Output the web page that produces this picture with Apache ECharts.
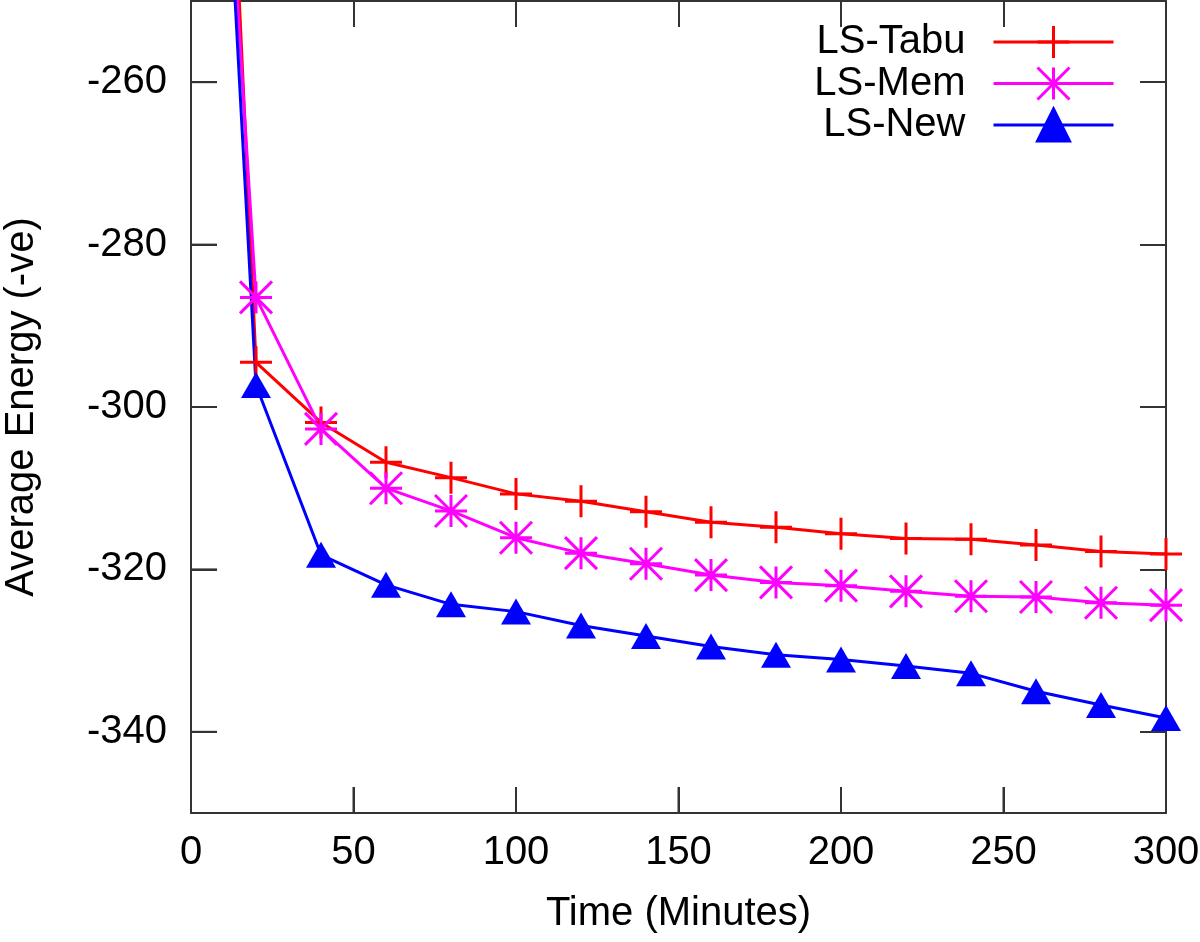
<!DOCTYPE html>
<html>
<head>
<meta charset="utf-8">
<script src="https://cdn.jsdelivr.net/npm/echarts@6/dist/echarts.min.js"></script>
<style>
html,body{margin:0;padding:0;background:#fff;}
#chart{width:1200px;height:942px;}
</style>
</head>
<body>
<div id="chart"></div>
<script>
const times = [0, 20, 40, 60, 80, 100, 120, 140, 160, 180, 200, 220, 240, 260, 280, 300];
const lsTabu = [-121, -294.5, -301.9, -306.8, -308.7, -310.7, -311.6, -312.9, -314.2, -314.8, -315.6, -316.2, -316.3, -317.0, -317.8, -318.1];
const lsMem = [-159, -286.5, -302.7, -310.0, -312.8, -316.1, -318.0, -319.3, -320.7, -321.6, -322.0, -322.7, -323.3, -323.4, -324.1, -324.4];
const lsNew = [-150, -297.3, -318.2, -321.9, -324.3, -325.2, -326.9, -328.2, -329.5, -330.5, -331.1, -331.9, -332.8, -335.0, -336.7, -338.3];
const yTicks = [-340, -320, -300, -280, -260];
const xTicks = [50, 100, 150, 200, 250];
const seriesNames = ['LS-Tabu', 'LS-Mem', 'LS-New'];

const FONT = '"Liberation Sans", Arial, Helvetica, sans-serif';
const AXIS_COLOR = '#333333';
const X_MIN = 0, X_MAX = 300, Y_MIN = -350, Y_MAX = -250;
const TICK_LEN = 26;

function pairs(vals) { return times.map((t, i) => [t, vals[i]]); }

const plusPath = 'path://M0,-1L0,1M-1,0L1,0';
const starPath = 'path://M0,-1L0,1M-1,0L1,0M-1,-1L1,1M-1,1L1,-1';

const chart = echarts.init(document.getElementById('chart'), null, {renderer: 'canvas'});

function axisLine() { return {show: true, onZero: false, lineStyle: {color: AXIS_COLOR, width: 2}}; }
function axisTick(custom) {
  const t = {show: true, inside: true, length: TICK_LEN, lineStyle: {color: AXIS_COLOR, width: 2}};
  if (custom) t.customValues = custom;
  return t;
}

// tick marks for the left and bottom axes, placed through the axis scales
function tickSeries(values, isY) {
  return {
    type: 'custom', silent: true, clip: false, z: 5,
    data: values.map(v => isY ? [X_MIN, v] : [v, Y_MIN]),
    renderItem: function (params, api) {
      const p = api.coord([api.value(0), api.value(1)]);
      const shape = isY
        ? {x1: p[0], y1: p[1], x2: p[0] + TICK_LEN, y2: p[1]}
        : {x1: p[0], y1: p[1], x2: p[0], y2: p[1] - TICK_LEN};
      return {type: 'line', shape: shape, style: {stroke: AXIS_COLOR, lineWidth: 2}};
    }
  };
}

chart.setOption({
  animation: false,
  backgroundColor: '#ffffff',
  textStyle: {fontFamily: FONT},
  grid: {left: 191, right: 34, top: 1, bottom: 129, containLabel: false, outerBoundsMode: 'none'},
  legend: {
    data: seriesNames,
    orient: 'vertical',
    align: 'right',
    right: 85,
    top: 22,
    padding: 0,
    itemGap: 1.5,
    itemWidth: 120,
    itemHeight: 40,
    textStyle: {fontSize: 40, color: '#000', fontFamily: FONT, lineHeight: 40, padding: [0, 23, 0, 0]},
    itemStyle: {borderWidth: 3},
    lineStyle: {width: 3}
  },
  xAxis: [
    {
      type: 'value', position: 'bottom', min: X_MIN, max: X_MAX, interval: 50,
      axisLine: axisLine(), axisTick: axisTick(), splitLine: {show: false},
      axisLabel: {fontSize: 40, color: '#000', margin: 20, fontFamily: FONT},
      name: 'Time (Minutes)', nameLocation: 'middle', nameGap: 81,
      nameTextStyle: {fontSize: 40, color: '#000', fontFamily: FONT}
    },
    {
      type: 'value', position: 'top', min: X_MIN, max: X_MAX, interval: 50,
      axisLine: axisLine(), axisTick: axisTick(), splitLine: {show: false},
      axisLabel: {show: false}
    }
  ],
  yAxis: [
    {
      type: 'value', position: 'left', min: Y_MIN, max: Y_MAX,
      axisLine: axisLine(), axisTick: axisTick(yTicks),
      splitLine: {show: false},
      axisLabel: {fontSize: 40, color: '#000', margin: 24, fontFamily: FONT, customValues: yTicks},
      name: 'Average Energy (-ve)', nameLocation: 'middle', nameGap: 149, nameRotate: 90,
      nameTextStyle: {fontSize: 40, color: '#000', fontFamily: FONT}
    },
    {
      type: 'value', position: 'right', min: Y_MIN, max: Y_MAX,
      axisLine: axisLine(), axisTick: axisTick(yTicks),
      splitLine: {show: false},
      axisLabel: {show: false, customValues: yTicks}
    }
  ],
  series: [
    tickSeries(yTicks, true),
    tickSeries(xTicks, false),
    {
      name: seriesNames[0], type: 'line', data: pairs(lsTabu), color: '#ff0000',
      symbol: plusPath, symbolSize: 32, clip: true, z: 3,
      lineStyle: {width: 3, color: '#ff0000'},
      itemStyle: {color: '#ff0000', borderColor: '#ff0000', borderWidth: 3}
    },
    {
      name: seriesNames[1], type: 'line', data: pairs(lsMem), color: '#ff00ff',
      symbol: starPath, symbolSize: 32, clip: true, z: 3,
      lineStyle: {width: 3, color: '#ff00ff'},
      itemStyle: {color: '#ff00ff', borderColor: '#ff00ff', borderWidth: 3}
    },
    {
      name: seriesNames[2], type: 'line', data: pairs(lsNew), color: '#0000ff',
      symbol: 'triangle', symbolSize: [30, 26], clip: true, z: 3,
      lineStyle: {width: 3, color: '#0000ff'},
      itemStyle: {color: '#0000ff', borderColor: '#0000ff', borderWidth: 0}
    }
  ]
});
</script>
</body>
</html>
